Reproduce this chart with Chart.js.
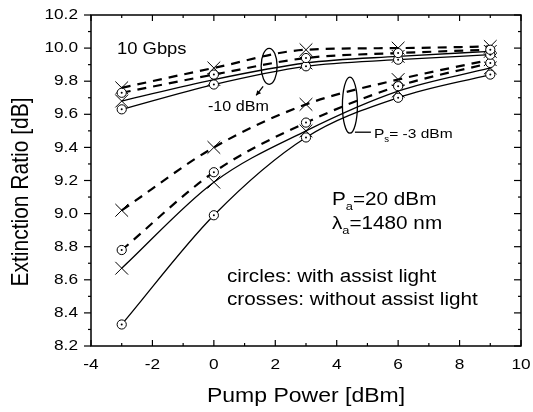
<!DOCTYPE html>
<html><head><meta charset="utf-8">
<script src="https://cdn.jsdelivr.net/npm/chart.js@4/dist/chart.umd.min.js"></script>
<style>html,body{margin:0;padding:0;background:#fff}canvas{display:block}</style>
</head><body>
<canvas id="c" width="533" height="412"></canvas>
<script>
// x values (Pump Power, dBm)
const pumpPower = [-3, 0, 3, 6, 9];
// Ps = -10 dBm group
const hiCrossDashed  = [9.76, 9.88, 9.99, 10.00, 10.01];
const hiCircleDashed = [9.73, 9.84, 9.94, 9.97, 9.99];
const hiCrossSolid   = [9.68, 9.81, 9.91, 9.95, 9.98];
const hiCircleSolid  = [9.63, 9.78, 9.89, 9.93, 9.96];
// Ps = -3 dBm group
const loCrossDashed  = [9.02, 9.40, 9.66, 9.81, 9.93];
const loCircleDashed = [8.78, 9.25, 9.55, 9.77, 9.91];
const loCrossSolid   = [8.67, 9.19, 9.50, 9.74, 9.88];
const loCircleSolid  = [8.33, 8.99, 9.46, 9.70, 9.84];
// tick labels
const xTickValues = [-4, -2, 0, 2, 4, 6, 8, 10];
const xTickLabels = ['-4', '-2', '0', '2', '4', '6', '8', '10'];
const yTickValues = [8.2, 8.4, 8.6, 8.8, 9.0, 9.2, 9.4, 9.6, 9.8, 10.0, 10.2];
const yTickLabels = ['8.2', '8.4', '8.6', '8.8', '9.0', '9.2', '9.4', '9.6', '9.8', '10.0', '10.2'];

const FONT = '"Liberation Sans", Arial, Helvetica, sans-serif';
const SX = 1.15;

function pts(arr) { return pumpPower.map((x, i) => ({ x: x, y: arr[i] })); }
function lineDS(arr, dashed, circle) {
  return {
    data: pts(arr), showLine: true,
    borderColor: '#000', borderWidth: dashed ? 2.2 : 1.3,
    borderDash: dashed ? [9, 7] : [],
    tension: 0.4, cubicInterpolationMode: 'monotone',
    pointStyle: circle ? 'circle' : 'crossRot',
    pointRadius: circle ? 4.6 : 9,
    pointBackgroundColor: '#fff', pointBorderColor: '#000', pointBorderWidth: 1
  };
}
function dotDS(arr) {
  return { data: pts(arr), showLine: false, pointStyle: 'circle', pointRadius: 1,
    pointBackgroundColor: '#000', pointBorderColor: '#000', pointBorderWidth: 0 };
}

const datasets = [
  dotDS(hiCircleDashed), dotDS(hiCircleSolid), dotDS(loCircleDashed), dotDS(loCircleSolid),
  lineDS(hiCircleDashed, true, true), lineDS(hiCircleSolid, false, true),
  lineDS(loCircleDashed, true, true), lineDS(loCircleSolid, false, true),
  lineDS(hiCrossDashed, true, false), lineDS(hiCrossSolid, false, false),
  lineDS(loCrossDashed, true, false), lineDS(loCrossSolid, false, false)
];

function txt(ctx, s, x, y, size, align, base) {
  ctx.save();
  ctx.font = size + 'px ' + FONT;
  ctx.fillStyle = '#000';
  ctx.textAlign = align || 'left';
  ctx.textBaseline = base || 'alphabetic';
  ctx.translate(x, y); ctx.scale(SX, 1);
  ctx.fillText(s, 0, 0);
  ctx.restore();
}
function rich(ctx, parts, x, y, size) {
  let cx = x;
  parts.forEach(p => {
    const fs = p.sub ? size * 0.62 : size;
    const dy = p.sub ? size * 0.28 : 0;
    ctx.save();
    ctx.font = fs + 'px ' + FONT;
    ctx.fillStyle = '#000';
    ctx.textBaseline = 'alphabetic';
    ctx.translate(cx, y + dy); ctx.scale(SX, 1);
    ctx.fillText(p.t, 0, 0);
    const w = ctx.measureText(p.t).width * SX;
    ctx.restore();
    cx += w;
  });
}

const decor = {
  id: 'decor',
  afterDraw(chart) {
    const ctx = chart.ctx, xs = chart.scales.x, ys = chart.scales.y, a = chart.chartArea;
    ctx.save();
    ctx.strokeStyle = '#000';
    ctx.lineWidth = 1.5;
    ctx.strokeRect(a.left, a.top, a.right - a.left, a.bottom - a.top);
    ctx.lineWidth = 1.2;
    const ln = (x1, y1, x2, y2) => { ctx.beginPath(); ctx.moveTo(x1, y1); ctx.lineTo(x2, y2); ctx.stroke(); };
    for (let v = -4; v <= 10; v += 1) {
      const px = xs.getPixelForValue(v);
      const len = (v % 2 === 0) ? 6 : 3;
      ln(px, a.bottom, px, a.bottom - len);
      ln(px, a.top, px, a.top + len);
    }
    for (let i = 0; i <= 20; i++) {
      const py = ys.getPixelForValue(8.2 + i * 0.1);
      const len = (i % 2 === 0) ? 7 : 3;
      ln(a.left - len, py, a.left, py);
      ln(a.right - len, py, a.right, py);
    }
    // tick labels
    xTickValues.forEach((v, i) => txt(ctx, xTickLabels[i], xs.getPixelForValue(v), a.bottom + 19, 15, 'center', 'middle'));
    yTickValues.forEach((v, i) => txt(ctx, yTickLabels[i], a.left - 13, ys.getPixelForValue(v), 15, 'right', 'middle'));
    // axis titles
    txt(ctx, 'Pump Power [dBm]', (a.left + a.right) / 2, 402, 20, 'center');
    ctx.save();
    ctx.translate(28, 192); ctx.rotate(-Math.PI / 2);
    ctx.scale(1, SX);
    ctx.font = '21px ' + FONT; ctx.fillStyle = '#000'; ctx.textAlign = 'center';
    ctx.fillText('Extinction Ratio [dB]', 0, 0);
    ctx.restore();
    // annotations
    txt(ctx, '10 Gbps', 117, 54, 16);
    // upper ellipse
    ctx.lineWidth = 1.3;
    const e1x = xs.getPixelForValue(1.8), e1y = ys.getPixelForValue(9.89);
    ctx.beginPath(); ctx.ellipse(e1x, e1y, 8, 18, 0, 0, Math.PI * 2); ctx.stroke();
    // arrow to -10 dBm
    const ax1 = e1x - 6, ay1 = e1y + 20, ax2 = e1x - 13, ay2 = e1y + 29;
    ln(ax1, ay1, ax2, ay2);
    ctx.beginPath(); ctx.moveTo(ax2, ay2); ctx.lineTo(ax2 + 1, ay2 - 5); ctx.lineTo(ax2 + 5, ay2 - 2); ctx.closePath(); ctx.fillStyle = '#000'; ctx.fill();
    txt(ctx, '-10 dBm', 208, 111, 14);
    // lower ellipse
    const e2x = xs.getPixelForValue(4.43), e2y = ys.getPixelForValue(9.655);
    ctx.beginPath(); ctx.ellipse(e2x, e2y, 7.5, 28, 0, 0, Math.PI * 2); ctx.stroke();
    ln(e2x + 5, e2y + 27, e2x + 21, e2y + 27);
    rich(ctx, [{ t: 'P' }, { t: 's', sub: true }, { t: '= -3 dBm' }], 374, 138, 13.5);
    rich(ctx, [{ t: 'P' }, { t: 'a', sub: true }, { t: '=20 dBm' }], 332, 205, 18);
    rich(ctx, [{ t: 'λ' }, { t: 'a', sub: true }, { t: '=1480 nm' }], 332, 229, 18);
    txt(ctx, 'circles: with assist light', 227, 282, 18);
    txt(ctx, 'crosses: without assist light', 227, 305, 18);
    ctx.restore();
  }
};

new Chart(document.getElementById('c'), {
  type: 'scatter',
  data: { datasets: datasets },
  options: {
    responsive: false, animation: false, devicePixelRatio: 1,
    layout: { padding: { top: 15, right: 12, left: 0, bottom: 0 } },
    plugins: { legend: { display: false }, tooltip: { enabled: false } },
    scales: {
      x: { type: 'linear', min: -4, max: 10,
        ticks: { display: false, stepSize: 2 }, grid: { display: false }, border: { display: false },
        afterFit(s) { s.height = 66; } },
      y: { type: 'linear', min: 8.2, max: 10.2,
        ticks: { display: false, stepSize: 0.2 }, grid: { display: false }, border: { display: false },
        afterFit(s) { s.width = 91; } }
    }
  },
  plugins: [decor]
});
</script>
</body></html>
